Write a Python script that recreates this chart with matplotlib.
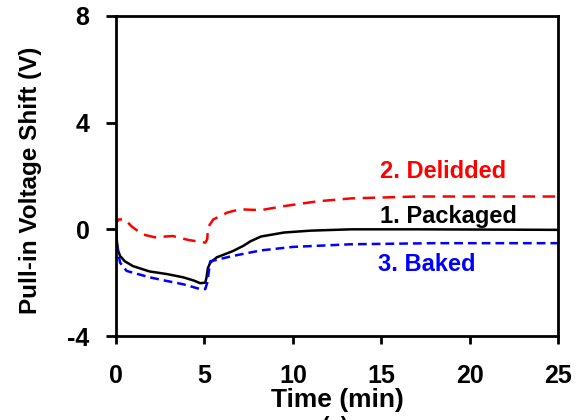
import matplotlib
matplotlib.use("Agg")
import matplotlib.pyplot as plt

plt.rcParams["font.family"] = ["Liberation Sans", "DejaVu Sans"]
plt.rcParams["font.weight"] = "bold"
plt.rcParams["axes.unicode_minus"] = False

# values (time in min, shift in V)
t_packaged = [0, 0.05, 0.12, 0.23, 0.5, 0.96, 1.9, 2.9, 3.8, 4.4, 4.76, 5.05, 5.12,
              5.2, 5.33, 5.7, 6.6, 7.2, 7.6, 8.2, 9.5, 11, 13.3, 17, 25]
v_packaged = [0, -0.45, -0.8, -1.0, -1.2, -1.38, -1.58, -1.68, -1.8, -1.92, -2.02, -2.0,
              -1.8, -1.45, -1.25, -1.05, -0.82, -0.62, -0.45, -0.27, -0.12, -0.05, 0,
              0, -0.02]

t_delidded = [0, 0.04, 0.15, 0.5, 0.9, 1.5, 2.2, 3.2, 4.1, 5.05, 5.16, 5.2, 5.5, 6.3,
              7.0, 8.2, 9.5, 11.4, 13.3, 17, 25]
v_delidded = [0.05, 0.26, 0.37, 0.37, 0.1, -0.19, -0.3, -0.25, -0.4, -0.5, -0.37, 0.07,
              0.37, 0.63, 0.75, 0.72, 0.87, 1.05, 1.16, 1.23, 1.23]

t_baked = [0, 0.05, 0.23, 0.6, 1.9, 2.9, 3.8, 4.76, 5.05, 5.16, 5.33, 6.6, 8.2, 10,
           13.3, 18, 25]
v_baked = [0, -0.63, -1.25, -1.56, -1.8, -1.94, -2.06, -2.24, -2.24, -2.0, -1.2, -1.0,
           -0.79, -0.66, -0.56, -0.52, -0.52]

fig = plt.figure(figsize=(5.76, 4.2), dpi=100)
ax = fig.add_axes([0.2014, 0.2, 0.7674, 0.762])

ax.plot(t_packaged, v_packaged, color="black", lw=1.8)
ax.plot(t_delidded, v_delidded, color="#ff0000", lw=1.8, dashes=(5, 3))
ax.plot(t_baked, v_baked, color="#0000ff", lw=1.8, dashes=(3.5, 2))

ax.text(18.5, 2.17, "2. Delidded", color="#ff0000", fontsize=17, fontweight="bold",
        ha="center", va="center")
ax.text(18.8, 0.49, "1. Packaged", color="black", fontsize=17, fontweight="bold",
        ha="center", va="center")
ax.text(17.6, -1.31, "3. Baked", color="#0000ff", fontsize=17, fontweight="bold",
        ha="center", va="center")

ax.set_xlim(0, 25)
ax.set_ylim(-4, 8)
ax.set_xticks([0, 5, 10, 15, 20, 25])
ax.set_yticks([-4, 0, 4, 8])
ax.tick_params(axis="x", direction="out", length=6, width=2, pad=14, labelsize=18)
ax.tick_params(axis="y", direction="out", length=7, width=2, pad=12, labelsize=18)
for lab in ax.get_xticklabels() + ax.get_yticklabels():
    lab.set_fontweight("bold")
for s in ax.spines.values():
    s.set_linewidth(2)

ax.set_xlabel("Time (min)", fontsize=19, fontweight="bold", labelpad=0)
ax.set_ylabel("Pull-in Voltage Shift (V)", fontsize=17.5, fontweight="bold")
ax.yaxis.set_label_coords(-0.168, 0.485)

fig.text(0.582, 0.01, "(a)", fontsize=16, ha="center", va="top")

fig.savefig("out.png", dpi=100)
